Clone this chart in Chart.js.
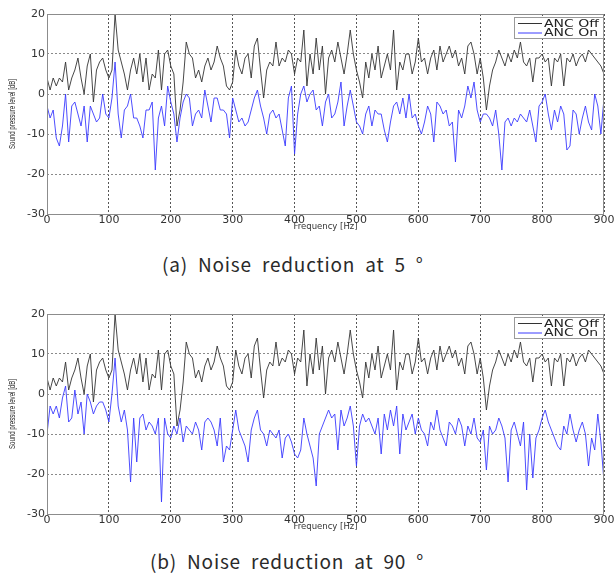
<!DOCTYPE html>
<html>
<head>
<meta charset="utf-8">
<script src="https://cdn.jsdelivr.net/npm/chart.js@4.4.1/dist/chart.umd.min.js"></script>
<style>
  body { margin: 0; background: #fff; width: 615px; height: 574px; position: relative; overflow: hidden; }
  .plot { position: absolute; left: 0; width: 615px; height: 240px; }
  .caption { position: absolute; font-family: "Noto Sans CJK KR", "Noto Sans", sans-serif; font-size: 19px;
             line-height: 20px; color: #2a2a2a; letter-spacing: 0.8px; word-spacing: 5px; white-space: nowrap; }
</style>
</head>
<body>
<div class="plot" style="top:0"><canvas id="chartA" width="615" height="240"></canvas></div>
<div class="caption" style="left:162px; top:254px">(a) Noise reduction at 5 °</div>
<div class="plot" style="top:300px"><canvas id="chartB" width="615" height="240"></canvas></div>
<div class="caption" style="left:150px; top:551px">(b) Noise reduction at 90 °</div>
<script>
// frequency grid, 5 Hz steps from 0 to 900 Hz
const freqs = [];
for (let f = 0; f <= 900; f += 5) freqs.push(f);

const xTicks = [0, 100, 200, 300, 400, 500, 600, 700, 800, 900];
const yTicks = [-30, -20, -10, 0, 10, 20];

// ANC Off (same measurement in both panels)
const ancOff = [
  4, 1, 4, 2, 4, 3, 8, 1, 4, 6,
  9, 4, 0, 7, 10, -2, 6, 8, 9, 6,
  4, 6, 20, 11, 8, 5, 1, 6, 9, 5,
  10, 3, 9, 1, 5, 4, 11, 1, 10, 11,
  7, 5, -8, -4, 3, 13, 10, 9, 4, 6,
  3, 7, 9, 6, 8, 12, 9, 7, 2, 1,
  3, 11, 7, 5, 9, 10, 4, 12, 14, 6,
  -1, 6, 8, 7, 13, 7, 9, 8, 11, 10,
  5,
  9, 8, 16, 2, 10, 5, 14, 6, 12, 0,
  9, 11, 8, 13, 9, 5, 10, 16, 10, 6,
  3, -1, 8, 4, 10, 6, 12, 4, 7, 10,
  6, 16, 1, 8, 6, 10, 10, 5, 8, 14,
  8, 9, 5, 9, 11, 6, 12, 8, 10, 12,
  9, 11, 7, 9, 5, 12, 13, 10, 5, 9,
  4, -4, 2, 6, 8, 11, 9, 7, 10, 8,
  11, 9, 13, 8, 7, 9, 3, 9, 9, 10,
  8, 9, 2, 9, 8, 10, 2, 9, 8, 10,
  7, 9, 10, 8, 11, 10, 9, 8, 7, 5
];

// ANC On at 5 degrees
const ancOn5 = [
  -3, -6, -4, -11, -13, -8, 0, -12, -3, -2,
  -5, -8, -3, -12, -3, -5, -7, -6, 0, -5,
  -6, -1, 8, -5, -11, -4, -3, 0, -6, -6,
  -8, -11, -4, -4, -2, -19, -6, -3, -8, 2,
  -2, -5, -12, -6, -2, 0, -1, -8, -5, -4,
  -6, 1, -3, -7, -1, -1, -4, -4, -5, -11,
  -1, -4, -7, -6, -8, -7, -4, -1, 1, -3,
  -6, -10, -5, -4, -6, -5, -9, -13, -1, 2,
  -15,
  -5, 0, 2, -2, 0, 1, -4, -3, -8, -2,
  0, -6, -5, -2, 3, -8, -3, 1, -3, -7,
  -8, -10, -5, -3, -8, -4, -5, -5, -9, -12,
  -7, -3, -2, -5, -1, -6, 0, -6, -5, -8,
  -10, -7, -3, -5, -12, -2, -3, -5, -4, -8,
  -7, -17, -4, -6, -3, 2, -1, 3, -4, -7,
  -5, -5, -6, -8, -4, -10, -19, -7, -6, -8,
  -6, -7, -5, -6, -7, -4, -8, -12, -3, -2,
  0, -5, -9, -4, -7, -3, -5, -14, -13, -4,
  -5, -10, -6, -3, -7, -9, 0, -3, -10, -1
];

// ANC On at 90 degrees
const ancOn90 = [
  -10, -3, -5, -3, -6, -1, 2, -7, -6, 1,
  -5, -2, -10, 0, -2, -5, -3, -2, -2, -4,
  -7, 0, 9, -3, -7, -4, -9, -22, -6, -17,
  -6, -5, -9, -7, -8, -10, -6, -27, -6, -10,
  -11, -8, -10, -6, -12, -8, -9, -10, -7, -9,
  -14, -7, -6, -7, -9, -13, -6, -17, -13, -14,
  -9, -4, -9, -11, -13, -17, -9, -6, -4, -9,
  -10, -13, -9, -10, -11, -9, -16, -11, -10, -12,
  -15, -16, -14, -6, -10, -13, -16, -23, -10,
  -8, -6, -4, -6, -5, -14, -4, -8, -6, -3,
  -8, -18, -8, -5, -7, -6, -8, -10, -6, -15,
  -5, -9, -4, -8, -3, -15, -5, -9, -7, -5,
  -10, -6, -9, -10, -13, -7, -9, -4, -9, -11,
  -13, -7, -8, -10, -6, -8, -13, -8, -10, -6,
  -11, -12, -9, -19, -8, -10, -9, -6, -8, -11,
  -22, -9, -7, -10, -13, -7, -24, -10, -21, -11,
  -9, -6, -4, -7, -9, -11, -13, -14, -8, -10,
  -5, -9, -12, -9, -7, -10, -18, -11, -14, -5,
  -12, -22
];

const offColor = '#333333';
const onColor = '#3a3aff';

// frame around the plot, legend box and the squeezed y title
const framePlugin = {
  id: 'framePlugin',
  afterDraw(chart) {
    const { ctx, chartArea: a } = chart;
    ctx.save();
    ctx.strokeStyle = '#8c8c8c';
    ctx.lineWidth = 1;
    ctx.strokeRect(a.left + 0.5, a.top + 0.5, a.right - a.left - 1, a.bottom - a.top);

    // legend
    const w = 90, h = 21;
    const x0 = a.right - w, y0 = a.top + 3;
    ctx.fillStyle = '#fff';
    ctx.fillRect(x0, y0, w, h);
    ctx.strokeStyle = '#9a9a9a';
    ctx.strokeRect(x0 + 0.5, y0 + 0.5, w - 1, h);
    chart.data.datasets.forEach((ds, i) => {
      const y = y0 + 6.5 + i * 9.5;
      ctx.strokeStyle = ds.borderColor;
      ctx.lineWidth = 1;
      ctx.beginPath();
      ctx.moveTo(x0 + 4, y);
      ctx.lineTo(x0 + 28, y);
      ctx.stroke();
      ctx.save();
      ctx.translate(x0 + 30, y + 0.5);
      ctx.scale(1.4, 1);
      ctx.fillStyle = '#222';
      ctx.font = '10px "DejaVu Sans"';
      ctx.textBaseline = 'middle';
      ctx.fillText(ds.label, 0, 0);
      ctx.restore();
    });

    // y axis title, squeezed along its length
    const title = 'Sound pressure level [dB]';
    ctx.font = '9px "Liberation Sans"';
    const tw = ctx.measureText(title).width;
    ctx.translate(13, (a.top + a.bottom) / 2);
    ctx.rotate(-Math.PI / 2);
    ctx.scale(70 / tw, 1);
    ctx.fillStyle = '#222';
    ctx.textAlign = 'center';
    ctx.textBaseline = 'middle';
    ctx.fillText(title, 0, 0);
    ctx.restore();
  }
};

function makeChart(id, onValues) {
  const ctx = document.getElementById(id).getContext('2d');
  return new Chart(ctx, {
    type: 'line',
    data: {
      datasets: [{
        label: 'ANC Off',
        data: freqs.map((f, i) => ({ x: f, y: ancOff[i] })),
        borderColor: offColor,
        borderWidth: 0.9,
        pointRadius: 0,
        order: 2
      }, {
        label: 'ANC On',
        data: freqs.map((f, i) => ({ x: f, y: onValues[i] })),
        borderColor: onColor,
        borderWidth: 0.9,
        pointRadius: 0,
        order: 1
      }]
    },
    options: {
      responsive: false,
      animation: false,
      layout: { padding: { left: 0, right: 11, top: 14, bottom: 0 } },
      plugins: { legend: { display: false }, tooltip: { enabled: false } },
      scales: {
        x: {
          type: 'linear',
          min: 0,
          max: 900,
          afterBuildTicks: s => { s.ticks = xTicks.map(v => ({ value: v })); },
          afterFit: s => { s.height = 26; },
          ticks: { color: '#333', padding: 0, font: { family: 'DejaVu Sans', size: 11 } },
          grid: { color: '#555', drawTicks: false },
          border: { display: false, dash: [2, 2] },
          title: {
            display: true,
            text: 'Frequency [Hz]',
            color: '#333',
            font: { family: 'DejaVu Sans', size: 8.5 },
            padding: { top: 8, bottom: 8 }
          }
        },
        y: {
          min: -30,
          max: 20,
          afterBuildTicks: s => { s.ticks = yTicks.map(v => ({ value: v })); },
          afterFit: s => { s.width = 47; },
          ticks: { color: '#333', padding: 2, font: { family: 'DejaVu Sans', size: 11 } },
          grid: { color: '#8a8a8a', drawTicks: false },
          border: { display: false, dash: [2, 2] }
        }
      }
    },
    plugins: [framePlugin]
  });
}

makeChart('chartA', ancOn5);
makeChart('chartB', ancOn90);
</script>
</body>
</html>
